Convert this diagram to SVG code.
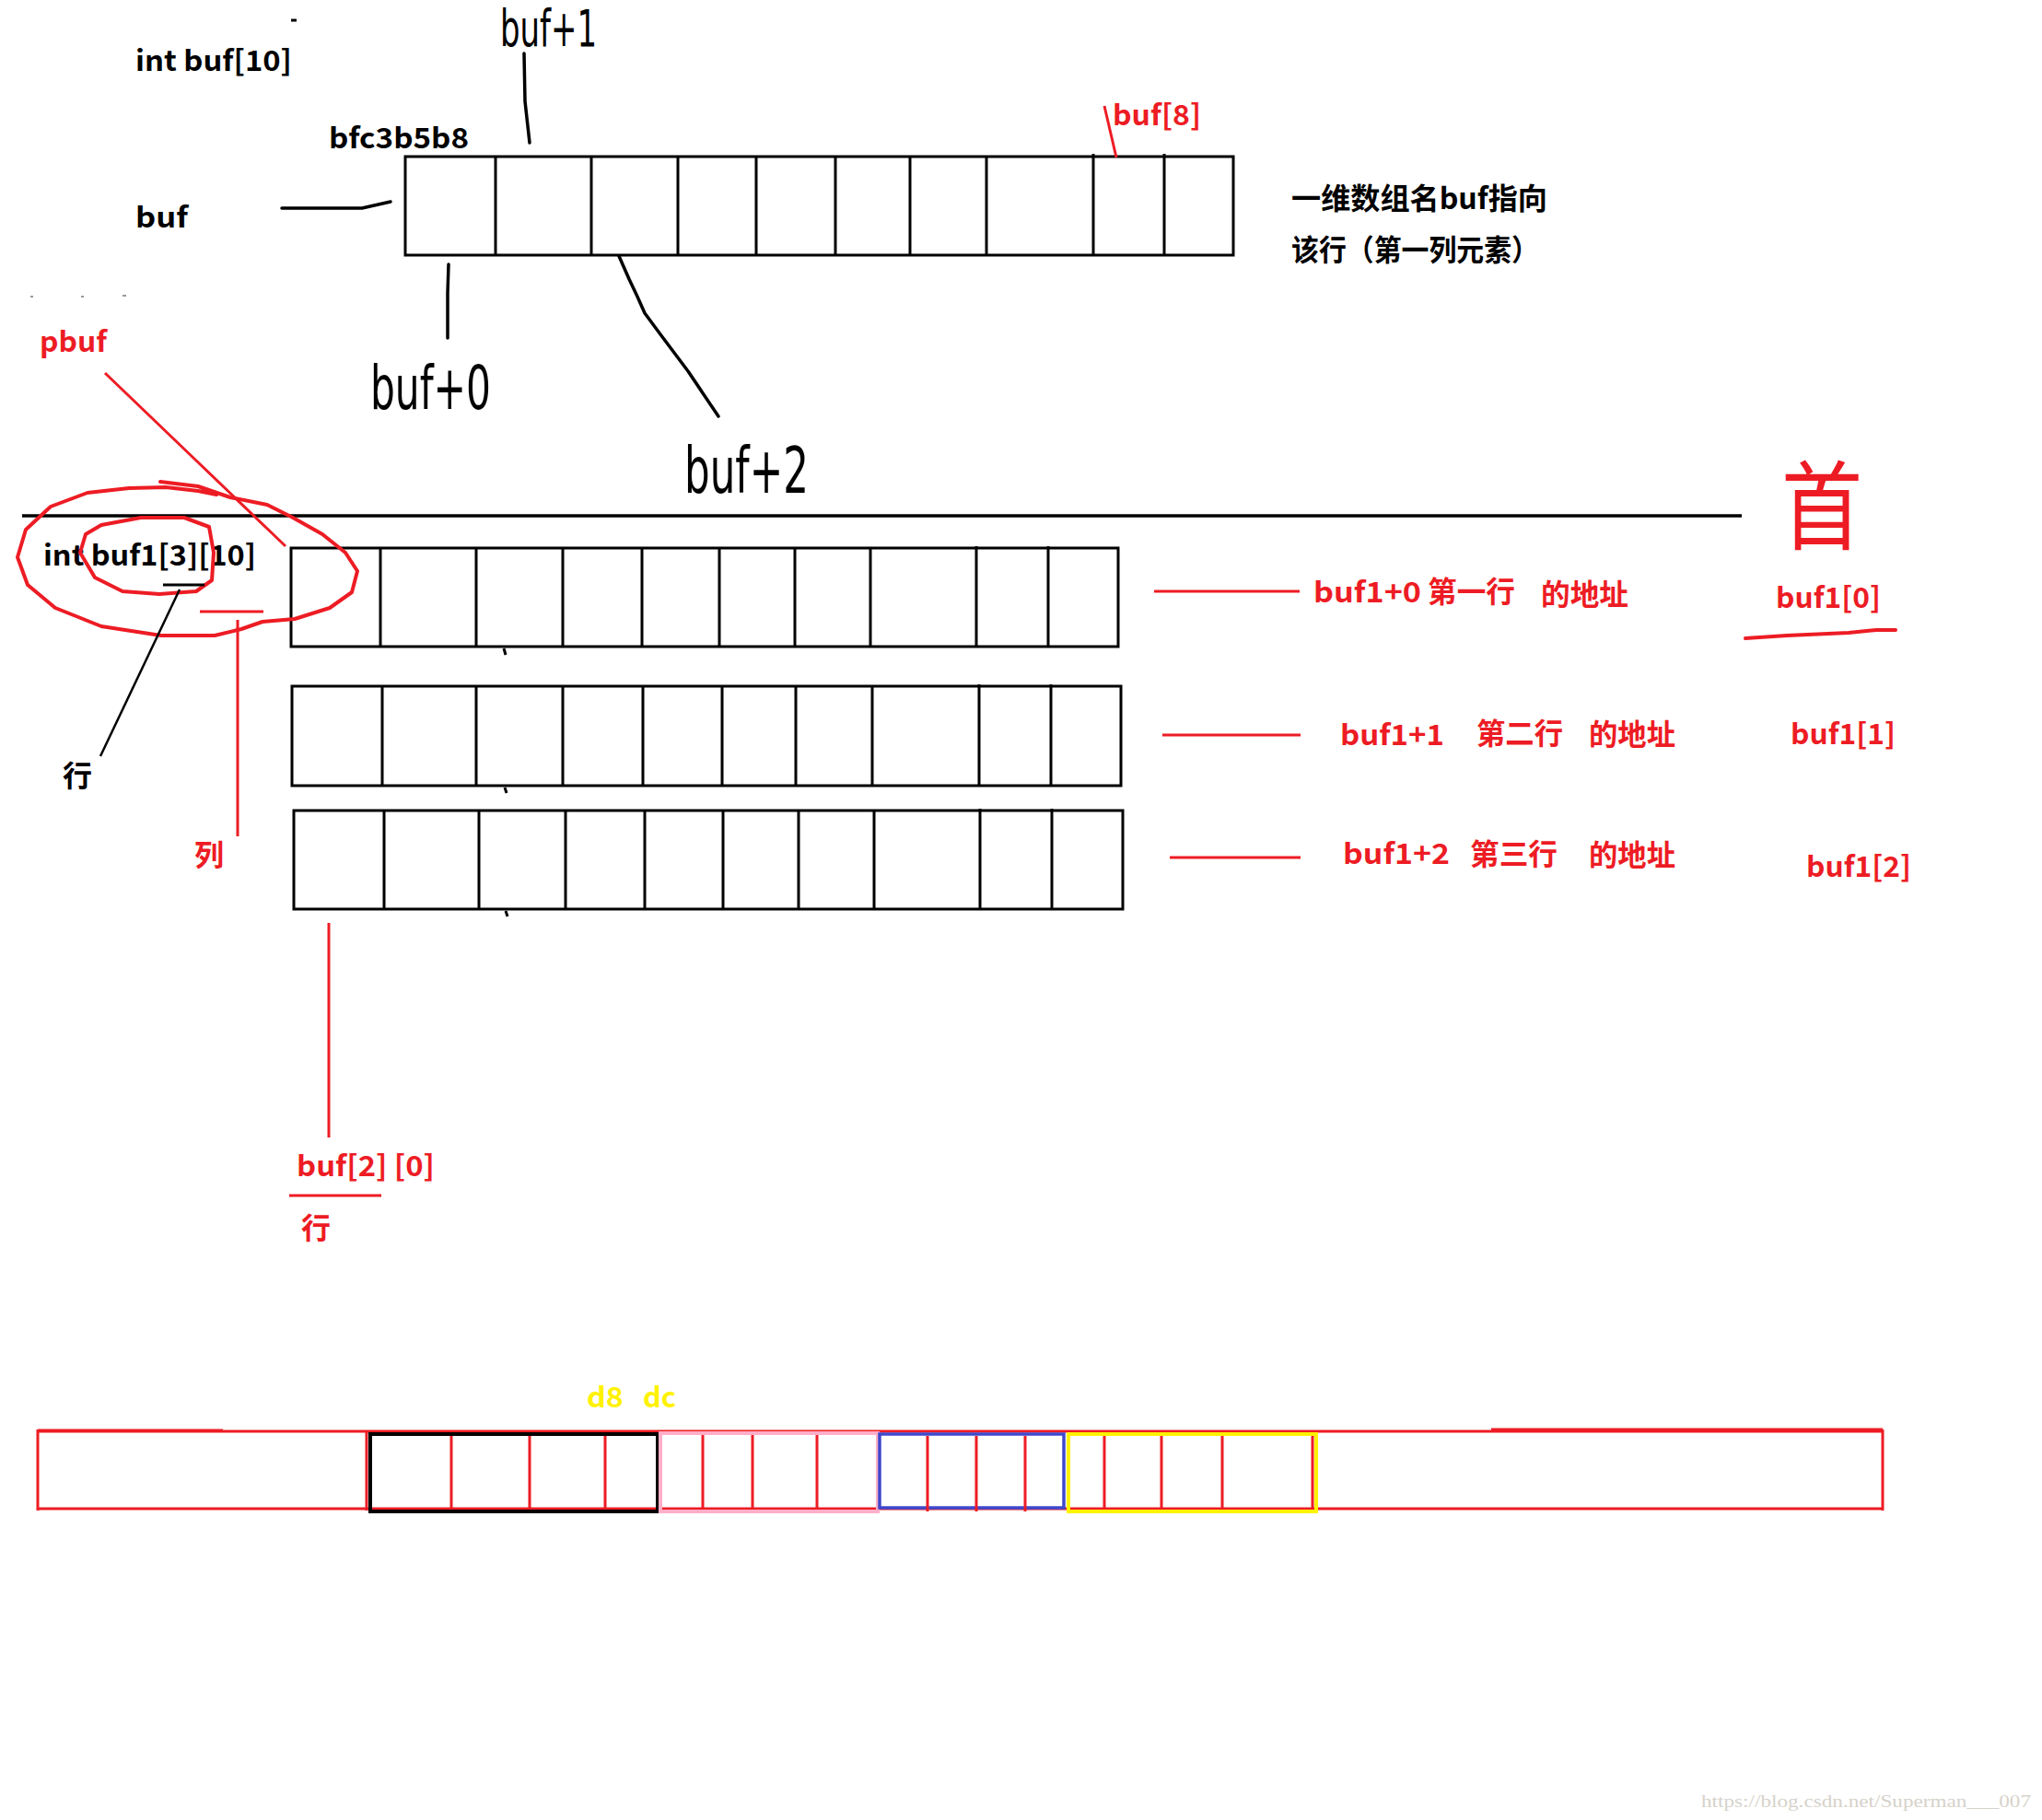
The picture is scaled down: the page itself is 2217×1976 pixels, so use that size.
<svg xmlns="http://www.w3.org/2000/svg" width="2217" height="1976" viewBox="0 0 2217 1976">
<style>
.blk{stroke:#000;fill:none;stroke-width:3}
.red{stroke:#ed1c24;fill:none;stroke-width:3}
.hand{stroke:#000;fill:none;stroke-width:3.5;stroke-linecap:round;stroke-linejoin:round}
.handr{stroke:#ed1c24;fill:none;stroke-width:4;stroke-linecap:round;stroke-linejoin:round}
.t{font-family:"Noto Sans CJK SC","Noto Sans",sans-serif;font-weight:bold;font-size:31px;fill:#000}
.cjk{font-size:32px}
.r{fill:#ed1c24}
.y{fill:#fff200}
.hw{font-family:"DejaVu Sans",sans-serif;font-weight:normal;fill:#000}
.cell{stroke:#000;stroke-width:3}
.rc{stroke:#ed1c24;stroke-width:3}
</style>
<rect width="2217" height="1976" fill="#fff"/>

<!-- top one-dimensional array -->
<g id="array-buf">
<rect x="440" y="170" width="899" height="107" class="blk"/>
<path class="cell" d="M538 170V277M642 170V277M736 170V277M821 170V277M907 170V277M988 170V277M1071 170V277M1187 167V277M1264 167V277"/>
</g>

<g id="label-int-buf10"><text class="t" x="147" y="77" textLength="170" lengthAdjust="spacingAndGlyphs">int buf[10]</text></g>
<g id="label-addr"><text class="t" x="357" y="161" textLength="152" lengthAdjust="spacingAndGlyphs">bfc3b5b8</text></g>
<g id="label-buf"><text class="t" x="147" y="247" textLength="57" lengthAdjust="spacingAndGlyphs">buf</text></g>
<g id="label-buf8"><text class="t r" x="1208" y="136" textLength="96" lengthAdjust="spacingAndGlyphs">buf[8]</text></g>
<g id="label-desc">
<text class="t cjk" x="1402" y="227" textLength="278" lengthAdjust="spacingAndGlyphs">一维数组名buf指向</text>
<text class="t cjk" x="1402" y="283" textLength="269" lengthAdjust="spacingAndGlyphs">该行（第一列元素）</text>
</g>
<g id="label-buf-plus1"><text class="hw" transform="translate(543,50) scale(1,1.25)" font-size="44" textLength="105" lengthAdjust="spacingAndGlyphs">buf+1</text></g>
<g id="label-buf-plus0"><text class="hw" transform="translate(402,444) scale(1,1.3)" font-size="50" textLength="131" lengthAdjust="spacingAndGlyphs">buf+0</text></g>
<g id="label-buf-plus2"><text class="hw" transform="translate(743,535) scale(1,1.3)" font-size="54" textLength="135" lengthAdjust="spacingAndGlyphs">buf+2</text></g>
<g id="label-pbuf"><text class="t r" x="43" y="382" font-size="28" textLength="73" lengthAdjust="spacingAndGlyphs">pbuf</text></g>

<!-- stray marks -->
<g id="marks">
<path class="blk" d="M316 22H322"/>
<path stroke="#999" stroke-width="2" d="M33 322H36M88 322H91M133 321H137"/>
</g>

<!-- separator -->
<g id="separator"><path d="M24 560H1891" stroke="#000" stroke-width="3.5"/></g>

<!-- two-dimensional array rows -->
<g id="row-0">
<rect x="316" y="595" width="898" height="107" class="blk"/>
<path class="cell" d="M413 595V702M517 595V702M611 595V702M697 595V702M781 595V702M863 595V702M945 595V702M1060 593V702M1138 593V702"/>
<path class="blk" stroke-width="2" d="M547 704L549 711"/>
</g>
<g id="row-1">
<rect x="317" y="745" width="900" height="108" class="blk"/>
<path class="cell" d="M415 745V853M517 745V853M611 745V853M698 745V853M784 745V853M864 745V853M947 745V853M1063 743V853M1141 743V853"/>
<path class="blk" stroke-width="2" d="M548 855L550 861"/>
</g>
<g id="row-2">
<rect x="319" y="880" width="900" height="107" class="blk"/>
<path class="cell" d="M417 880V987M520 880V987M614 880V987M700 880V987M785 880V987M867 880V987M949 880V987M1064 878V987M1142 878V987"/>
<path class="blk" stroke-width="2" d="M549 989L551 995"/>
</g>

<g id="label-int-buf1"><text class="t" x="47" y="614" textLength="231" lengthAdjust="spacingAndGlyphs">int buf1[3][10]</text></g>
<g id="label-hang"><text class="t cjk" x="68" y="854">行</text></g>
<g id="label-lie"><text class="t cjk r" x="211" y="940">列</text></g>

<g id="label-row0">
<text class="t r" x="1426" y="654" textLength="117" lengthAdjust="spacingAndGlyphs">buf1+0</text>
<text class="t cjk r" x="1550" y="654" textLength="95" lengthAdjust="spacingAndGlyphs">第一行</text>
<text class="t cjk r" x="1673" y="657" textLength="95" lengthAdjust="spacingAndGlyphs">的地址</text>
</g>
<g id="label-row1">
<text class="t r" x="1455" y="809" textLength="113" lengthAdjust="spacingAndGlyphs">buf1+1</text>
<text class="t cjk r" x="1603" y="808" textLength="94" lengthAdjust="spacingAndGlyphs">第二行</text>
<text class="t cjk r" x="1725" y="809" textLength="94" lengthAdjust="spacingAndGlyphs">的地址</text>
</g>
<g id="label-row2">
<text class="t r" x="1458" y="938" textLength="116" lengthAdjust="spacingAndGlyphs">buf1+2</text>
<text class="t cjk r" x="1596" y="939" textLength="95" lengthAdjust="spacingAndGlyphs">第三行</text>
<text class="t cjk r" x="1725" y="940" textLength="94" lengthAdjust="spacingAndGlyphs">的地址</text>
</g>
<g id="label-buf1-0"><text class="t r" x="1928" y="660" textLength="114" lengthAdjust="spacingAndGlyphs">buf1[0]</text></g>
<g id="label-buf1-1"><text class="t r" x="1944" y="808" textLength="114" lengthAdjust="spacingAndGlyphs">buf1[1]</text></g>
<g id="label-buf1-2"><text class="t r" x="1961" y="952" textLength="114" lengthAdjust="spacingAndGlyphs">buf1[2]</text></g>
<g id="label-shou"><text transform="translate(1934,588) scale(1.05,1.25)" font-family="Noto Sans CJK SC, sans-serif" font-size="84" fill="#ed1c24">首</text></g>
<g id="label-buf2-0">
<text class="t r" x="322" y="1277" textLength="150" lengthAdjust="spacingAndGlyphs">buf[2] [0]</text>
<text class="t cjk r" x="327" y="1345">行</text>
</g>

<!-- memory strip -->
<g id="memory-strip">
<path class="red" stroke-width="2" d="M41 1554H2044"/>
<path class="red" stroke-width="4" d="M41 1553H242M1619 1552H2044M41 1638H2044"/>
<path class="red" d="M41 1552V1640M2044 1552V1640M398 1554V1640"/>
</g>
<g id="block-black">
<rect x="402" y="1557" width="312" height="84" fill="none" stroke="#000" stroke-width="4"/>
<path class="rc" d="M490 1559V1638M575 1559V1638M657 1559V1638"/>
</g>
<g id="block-pink">
<rect x="717" y="1556" width="236" height="85" fill="none" stroke="#ffaec9" stroke-width="4"/>
<path class="rc" d="M763 1558V1638M817 1558V1638M887 1558V1638"/>
</g>
<g id="block-blue">
<rect x="955" y="1557" width="200" height="80" fill="none" stroke="#3f48cc" stroke-width="3.5"/>
<path class="rc" d="M1007 1559V1641M1060 1559V1641M1113 1559V1641"/>
</g>
<g id="block-yellow">
<rect x="1160" y="1557" width="269" height="84" fill="none" stroke="#fff200" stroke-width="4"/>
<path class="rc" d="M1199 1559V1638M1261 1559V1638M1327 1559V1638M1425 1559V1638"/>
</g>
<g id="label-d8-dc">
<text class="t y" x="637" y="1528" textLength="40" lengthAdjust="spacingAndGlyphs" font-weight="normal">d8</text>
<text class="t y" x="698" y="1528" textLength="36" lengthAdjust="spacingAndGlyphs" font-weight="normal">dc</text>
</g>

<g id="watermark"><text x="1847" y="1962" font-family="Liberation Serif, serif" font-size="18" fill="#d6d2ca" textLength="358" lengthAdjust="spacingAndGlyphs">https://blog.csdn.net/Superman___007</text></g>

<!-- connectors -->
<g id="connectors">
<path class="hand" d="M306 226L393 226L424 219"/>
<path class="hand" d="M569 58L570 110L575 155"/>
<path class="hand" d="M487 287L486 318L486 367"/>
<path class="hand" d="M672 278L683 303L692 322L700 340L717 363L747 403L780 452"/>
<path class="red" d="M1199 115L1212 171"/>
<path class="red" d="M114 405L213 500L310 593"/>
<path class="handr" d="M174 523L215 528L250 540L290 548L318 562L350 580L375 600L388 620L382 643L358 660L320 672L285 675L262 683L233 690L175 690L110 680L60 660L30 635L19 605L28 575L55 550L95 535L140 530L180 529L215 533L235 537"/>
<path class="handr" d="M110 570L153 562L200 562L227 572L232 600L230 630L213 642L173 645L133 642L103 627L87 600L93 580L110 570"/>
<path class="blk" d="M177 635H222"/>
<path stroke="#000" stroke-width="2.5" fill="none" d="M195 640L109 821"/>
<path class="red" stroke-width="4" d="M217 664H286"/>
<path class="red" d="M258 673V908"/>
<path class="red" d="M1253 642H1411M1262 798H1412M1270 931H1412"/>
<path class="handr" d="M1895 693L1940 690L2007 687L2037 684L2058 684"/>
<path class="red" d="M357 1002V1235"/>
<path class="red" stroke-width="4" d="M314 1298H414"/>
</g>
</svg>
